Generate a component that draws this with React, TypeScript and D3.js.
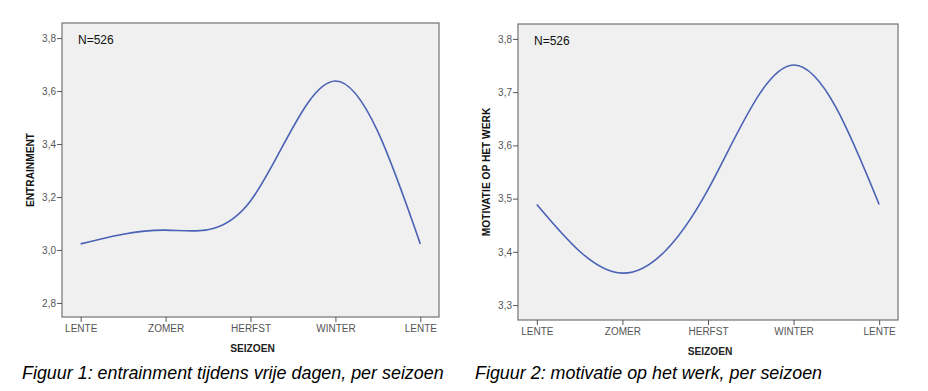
import { useEffect, useRef } from 'react';
import * as d3 from 'd3';

const seasons = ['LENTE', 'ZOMER', 'HERFST', 'WINTER', 'LENTE '];
const entrainment = [3.023, 3.075, 3.185, 3.638, 3.023];
const motivatie = [3.489, 3.36, 3.517, 3.751, 3.489];
const ticks1 = [2.8, 3.0, 3.2, 3.4, 3.6, 3.8];
const ticks2 = [3.3, 3.4, 3.5, 3.6, 3.7, 3.8];

const W = 928;
const H = 391;
const FONT = 'Liberation Sans, Arial, sans-serif';

function drawPanel(svg, opts) {
  const { x0, x1, y0, y1, values, domain, ticks, yLabel, caption, captionX } = opts;

  const x = d3.scalePoint().domain(seasons).range([x0, x1]).padding(0.22);
  const y = d3.scaleLinear().domain(domain).range([y1, y0]);

  // plot area
  svg.append('rect')
    .attr('x', x0)
    .attr('y', y0)
    .attr('width', x1 - x0)
    .attr('height', y1 - y0)
    .attr('fill', '#f0f0f0')
    .attr('stroke', '#7d7d7d')
    .attr('stroke-width', 1.3);

  const yAxis = svg.append('g')
    .attr('transform', `translate(${x0},0)`)
    .call(d3.axisLeft(y).tickValues(ticks).tickSize(5).tickFormat(d => d3.format('.1f')(d).replace('.', ',')));
  yAxis.select('.domain').remove();
  yAxis.selectAll('line').attr('stroke', '#555');
  yAxis.selectAll('text')
    .attr('fill', '#555')
    .attr('font-size', 10)
    .attr('font-family', FONT)
    .attr('x', -6);

  const xAxis = svg.append('g')
    .attr('transform', `translate(0,${y1})`)
    .call(d3.axisBottom(x).tickSize(5).tickFormat(d => d.trim()));
  xAxis.select('.domain').remove();
  xAxis.selectAll('line').attr('stroke', '#555');
  xAxis.selectAll('text')
    .attr('fill', '#555')
    .attr('font-size', 10)
    .attr('font-family', FONT)
    .attr('y', 8);

  // SPSS-style smooth line (natural spline)
  const line = d3.line()
    .x((d, i) => x(seasons[i]))
    .y(d => y(d))
    .curve(d3.curveNatural);

  svg.append('path')
    .datum(values)
    .attr('d', line)
    .attr('fill', 'none')
    .attr('stroke', '#4a62b6')
    .attr('stroke-width', 1.6);

  svg.append('text')
    .attr('x', x0 + 16)
    .attr('y', y0 + 21)
    .attr('font-size', 12)
    .attr('font-family', FONT)
    .attr('fill', '#111')
    .text('N=526');

  svg.append('text')
    .attr('transform', `translate(${x0 - 28},${(y0 + y1) / 2}) rotate(-90)`)
    .attr('text-anchor', 'middle')
    .attr('font-size', 10.2)
    .attr('font-weight', 'bold')
    .attr('font-family', FONT)
    .attr('fill', '#111')
    .text(yLabel);

  svg.append('text')
    .attr('x', (x0 + x1) / 2 + 2)
    .attr('y', y1 + 35)
    .attr('text-anchor', 'middle')
    .attr('font-size', 10.2)
    .attr('font-weight', 'bold')
    .attr('font-family', FONT)
    .attr('fill', '#222')
    .text('SEIZOEN');

  svg.append('text')
    .attr('x', captionX)
    .attr('y', 379)
    .attr('font-size', 17.9)
    .attr('font-style', 'italic')
    .attr('font-family', FONT)
    .attr('fill', '#000')
    .text(caption);
}

export default function App() {
  const svgRef = useRef(null);

  useEffect(() => {
    const svg = d3.select(svgRef.current);
    svg.selectAll('*').remove();

    svg.append('rect').attr('width', W).attr('height', H).attr('fill', '#fff');

    drawPanel(svg, {
      x0: 62, x1: 439, y0: 23, y1: 317,
      values: entrainment,
      domain: [2.747, 3.857],
      ticks: ticks1,
      yLabel: 'ENTRAINMENT',
      caption: 'Figuur 1: entrainment tijdens vrije dagen, per seizoen',
      captionX: 22,
    });

    drawPanel(svg, {
      x0: 518, x1: 898, y0: 24, y1: 320,
      values: motivatie,
      domain: [3.272, 3.828],
      ticks: ticks2,
      yLabel: 'MOTIVATIE OP HET WERK',
      caption: 'Figuur 2: motivatie op het werk, per seizoen',
      captionX: 475,
    });
  }, []);

  return (
    <svg
      ref={svgRef}
      width={W}
      height={H}
      style={{ position: 'absolute', left: 0, top: 0, display: 'block' }}
    />
  );
}
